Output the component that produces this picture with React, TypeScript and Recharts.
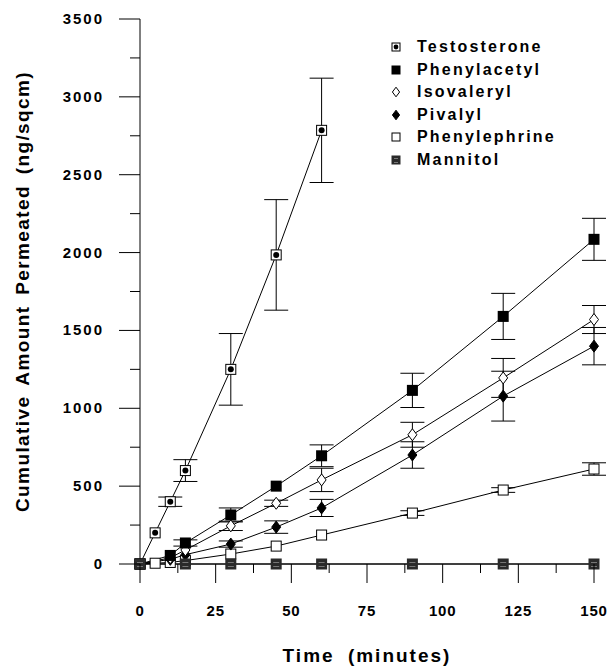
import { LineChart, Line, XAxis, YAxis, ErrorBar, Legend, Label } from 'recharts';

// sampling times (minutes)
const times = [0, 5, 10, 15, 30, 45, 60, 90, 120, 150];

// cumulative amount permeated (ng/sqcm), null = not measured
const testosterone = [0, 200, 400, 600, 1250, 1985, 2785, null, null, null];
const testosteroneErr = [null, null, 30, 70, 230, 355, 335, null, null, null];
const phenylacetyl = [0, null, 55, 135, 315, 500, 695, 1115, 1590, 2085];
const phenylacetylErr = [null, null, null, 20, 45, null, 70, 110, 148, 135];
const isovaleryl = [0, null, 40, 90, 245, 390, 540, 830, 1195, 1570];
const isovalerylErr = [null, null, null, null, 30, 20, 75, 80, 125, 90];
const pivalyl = [0, null, 30, 60, 128, 237, 360, 700, 1078, 1399];
const pivalylErr = [null, null, null, null, 20, 40, 55, 85, 160, 120];
const phenylephrine = [0, 5, 10, 22, 64, 115, 186, 327, 475, 610];
const phenylephrineErr = [null, null, null, null, null, null, null, 15, 15, 40];
const mannitol = [0, null, null, 0, 0, 0, 0, 0, 0, 0];

const xTicks = [0, 12.5, 25, 37.5, 50, 62.5, 75, 87.5, 100, 112.5, 125, 137.5, 150];
const yTicks = [0, 250, 500, 750, 1000, 1250, 1500, 1750, 2000, 2250, 2500, 2750, 3000, 3250, 3500];

const data = times.map((t, i) => ({
  time: t,
  testosterone: testosterone[i],
  testosteroneErr: testosteroneErr[i],
  phenylacetyl: phenylacetyl[i],
  phenylacetylErr: phenylacetylErr[i],
  isovaleryl: isovaleryl[i],
  isovalerylErr: isovalerylErr[i],
  pivalyl: pivalyl[i],
  pivalylErr: pivalylErr[i],
  phenylephrine: phenylephrine[i],
  phenylephrineErr: phenylephrineErr[i],
  mannitol: mannitol[i],
}));

const FONT = '"Liberation Sans", Arial, Helvetica, sans-serif';

type Kind = 'testo' | 'filledSq' | 'openDia' | 'filledDia' | 'openSq' | 'mannitol';

const Marker = ({ kind, cx, cy, s = 1 }: { kind: Kind; cx: number; cy: number; s?: number }) => {
  const h = 5 * s;
  switch (kind) {
    case 'testo':
      return (
        <g>
          <rect x={cx - h} y={cy - h} width={2 * h} height={2 * h} fill="#fff" stroke="#000" strokeWidth={1} />
          <circle cx={cx} cy={cy} r={3 * s} fill="#000" />
        </g>
      );
    case 'filledSq':
      return <rect x={cx - h - 0.5} y={cy - h - 0.5} width={2 * h + 1} height={2 * h + 1} fill="#000" />;
    case 'openDia':
    case 'filledDia': {
      const w = 4.5 * s;
      const v = 6 * s;
      return (
        <polygon
          points={`${cx},${cy - v} ${cx + w},${cy} ${cx},${cy + v} ${cx - w},${cy}`}
          fill={kind === 'openDia' ? '#fff' : '#000'}
          stroke="#000"
          strokeWidth={1}
        />
      );
    }
    case 'openSq':
      return <rect x={cx - h} y={cy - h} width={2 * h} height={2 * h} fill="#fff" stroke="#000" strokeWidth={1} />;
    case 'mannitol':
      return (
        <g>
          <rect x={cx - h - 0.5} y={cy - h - 0.5} width={2 * h + 1} height={2 * h + 1} fill="#2a2a2a" />
          <rect x={cx - h + 2} y={cy - 2} width={2 * h - 4} height={1} fill="#777" />
          <rect x={cx - h + 2} y={cy + 2} width={2 * h - 4} height={1} fill="#777" />
        </g>
      );
  }
  return null;
};

const makeDot = (kind: Kind) => (props: any) => {
  const { cx, cy, index, value } = props;
  if (cx == null || cy == null || value == null) return <g key={`d-${kind}-${index}`} />;
  return (
    <g key={`d-${kind}-${index}`}>
      <Marker kind={kind} cx={cx} cy={cy} />
    </g>
  );
};

const legendItems: { name: string; kind: Kind }[] = [
  { name: 'Testosterone', kind: 'testo' },
  { name: 'Phenylacetyl', kind: 'filledSq' },
  { name: 'Isovaleryl', kind: 'openDia' },
  { name: 'Pivalyl', kind: 'filledDia' },
  { name: 'Phenylephrine', kind: 'openSq' },
  { name: 'Mannitol', kind: 'mannitol' },
];

const LegendBox = () => (
  <div style={{ fontFamily: FONT, fontWeight: 'bold', fontSize: 16, letterSpacing: 2.2 }}>
    {legendItems.map((it) => (
      <div key={it.name} style={{ display: 'flex', alignItems: 'center', height: 22.5 }}>
        <svg width={20} height={20} style={{ marginRight: 11 }}>
          <Marker kind={it.kind} cx={10} cy={10} s={0.8} />
        </svg>
        <span>{it.name}</span>
      </div>
    ))}
  </div>
);

const XTick = (props: any) => {
  const { x, y, payload } = props;
  const v = payload.value;
  const major = v % 25 === 0;
  return (
    <g>
      <line x1={x} y1={y} x2={x} y2={y + (major ? 19 : 9)} stroke="#000" strokeWidth={1} />
      {major && (
        <text x={x} y={y + 52} textAnchor="middle" fontFamily={FONT} fontWeight="bold" fontSize={15} letterSpacing={0.8} fill="#000">
          {v}
        </text>
      )}
    </g>
  );
};

const YTick = (props: any) => {
  const { x, y, payload } = props;
  const v = payload.value;
  const major = v % 500 === 0;
  return (
    <g>
      <line x1={x - (major ? 21 : 10)} y1={y} x2={x} y2={y} stroke="#000" strokeWidth={1} />
      {major && (
        <text x={x - 36} y={y + 5} textAnchor="end" fontFamily={FONT} fontWeight="bold" fontSize={15} letterSpacing={2} fill="#000">
          {v}
        </text>
      )}
    </g>
  );
};

const series: { key: string; err: string; kind: Kind }[] = [
  { key: 'phenylephrine', err: 'phenylephrineErr', kind: 'openSq' },
  { key: 'pivalyl', err: 'pivalylErr', kind: 'filledDia' },
  { key: 'isovaleryl', err: 'isovalerylErr', kind: 'openDia' },
  { key: 'phenylacetyl', err: 'phenylacetylErr', kind: 'filledSq' },
  { key: 'testosterone', err: 'testosteroneErr', kind: 'testo' },
];

export default function App() {
  return (
    <>
      <style>{'body { margin: 0; }'}</style>
      <LineChart width={608} height={666} data={data} margin={{ top: 19, right: 14, bottom: 0, left: 0 }}>
        <XAxis
          type="number"
          dataKey="time"
          domain={[0, 150]}
          ticks={xTicks}
          interval={0}
          tickSize={0}
          tickMargin={0}
          tickLine={false}
          tick={<XTick />}
          axisLine={{ stroke: '#000', strokeWidth: 1 }}
          height={102}
        >
          <Label
            value="Time  (minutes)"
            position="insideBottom"
            offset={4}
            style={{ fontFamily: FONT, fontWeight: 'bold', fontSize: 19, letterSpacing: 2, wordSpacing: 6, fill: '#000' }}
          />
        </XAxis>
        <YAxis
          type="number"
          domain={[0, 3500]}
          ticks={yTicks}
          interval={0}
          tickSize={0}
          tickMargin={0}
          tickLine={false}
          tick={<YTick />}
          axisLine={{ stroke: '#000', strokeWidth: 1 }}
          width={140}
        >
          <Label
            value="Cumulative  Amount  Permeated  (ng/sqcm)"
            angle={-90}
            position="insideLeft"
            offset={22}
            style={{ textAnchor: 'middle', fontFamily: FONT, fontWeight: 'bold', fontSize: 19, letterSpacing: 1.4, wordSpacing: 4, fill: '#000' }}
          />
        </YAxis>
        {series.map((s) => (
          <Line
            key={s.key}
            type="linear"
            dataKey={s.key}
            stroke="#000"
            strokeWidth={1}
            dot={makeDot(s.kind)}
            activeDot={false}
            connectNulls
            isAnimationActive={false}
          >
            <ErrorBar dataKey={s.err} width={12} stroke="#000" strokeWidth={1} />
          </Line>
        ))}
        <Line
          type="linear"
          dataKey="mannitol"
          stroke="#000"
          strokeWidth={1}
          dot={makeDot('mannitol')}
          activeDot={false}
          connectNulls
          isAnimationActive={false}
        />
        <Legend
          layout="vertical"
          align="center"
          verticalAlign="middle"
          content={<LegendBox />}
          wrapperStyle={{ left: 386, top: 36, width: 'auto' }}
        />
      </LineChart>
    </>
  );
}
